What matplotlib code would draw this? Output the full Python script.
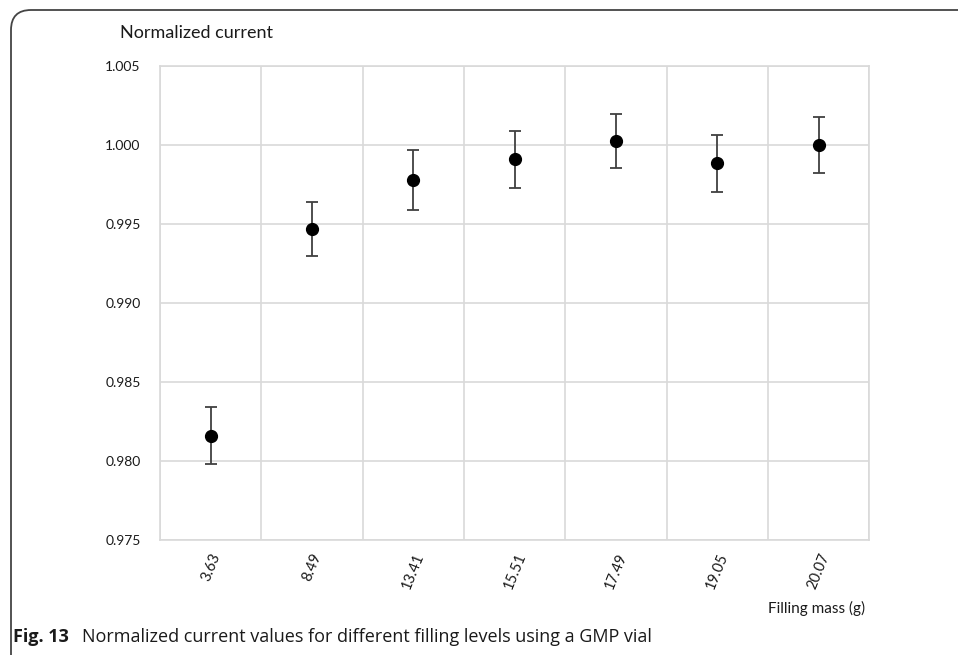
import matplotlib.pyplot as plt
from matplotlib.patches import FancyBboxPatch
from matplotlib.ticker import FixedLocator

# data
masses = ["3.63", "8.49", "13.41", "15.51", "17.49", "19.05", "20.07"]
current = [0.98160, 0.99470, 0.99780, 0.99910, 1.00025, 0.99885, 1.00000]
err = [0.0018, 0.0017, 0.0019, 0.0018, 0.0017, 0.0018, 0.0018]
yticks = [0.975, 0.980, 0.985, 0.990, 0.995, 1.000, 1.005]

fig = plt.figure(figsize=(9.58, 6.55), dpi=100)
ax = fig.add_axes([0.167, 0.1756, 0.7404, 0.7237])

x = list(range(len(masses)))
ax.errorbar(x, current, yerr=err, fmt="o", color="black", markersize=8.5,
            ecolor="#404040", elinewidth=1.3, capsize=4, capthick=1.3, zorder=3)

ax.set_xlim(-0.5, len(masses) - 0.5)
ax.set_ylim(0.975, 1.005)
ax.set_yticks(yticks)
ax.set_yticklabels(["%.3f" % v for v in yticks])
ax.set_xticks(x)
ax.set_xticklabels(masses, rotation=68)
ax.xaxis.set_minor_locator(FixedLocator([i - 0.5 for i in range(len(masses) + 1)]))

grid = "#d9d9d9"
ax.grid(True, axis="y", which="major", color=grid, lw=1.2)
ax.grid(True, axis="x", which="minor", color=grid, lw=1.2)
ax.grid(False, axis="x", which="major")
for s in ax.spines.values():
    s.set_color(grid)
    s.set_linewidth(1.2)
ax.tick_params(axis="both", which="both", length=0, colors="#1a1a1a")
ax.tick_params(axis="y", pad=14, labelsize=10)
ax.tick_params(axis="x", pad=8, labelsize=10.5)

font = "Lato"
for lab in ax.get_xticklabels() + ax.get_yticklabels():
    lab.set_fontfamily(font)

fig.text(120 / 958, 1 - 33 / 655, "Normalized current", fontsize=13, family=font,
         color="#1a1a1a", va="center", ha="left")
fig.text(865 / 958, 1 - 608 / 655, "Filling mass (g)", fontsize=11, family=font,
         color="#1a1a1a", va="center", ha="right")

# caption
fig.text(13 / 958, 1 - 637 / 655, "Fig. 13", fontsize=13, family="Open Sans",
         weight="bold", va="center", ha="left", color="#1a1a1a")
fig.text(82 / 958, 1 - 637 / 655,
         "Normalized current values for different filling levels using a GMP vial",
         fontsize=13, family="Open Sans", va="center", ha="left", color="#1a1a1a")

# rounded frame around the figure, open to the right and bottom
frame = FancyBboxPatch((0.11, -0.5), 12, 6.55 - 0.10 + 0.5,
                       boxstyle="round,pad=0,rounding_size=0.2",
                       transform=fig.dpi_scale_trans, fill=False,
                       edgecolor="#444444", lw=1.3, clip_on=False)
fig.patches.append(frame)

fig.savefig("out.png", dpi=100)
